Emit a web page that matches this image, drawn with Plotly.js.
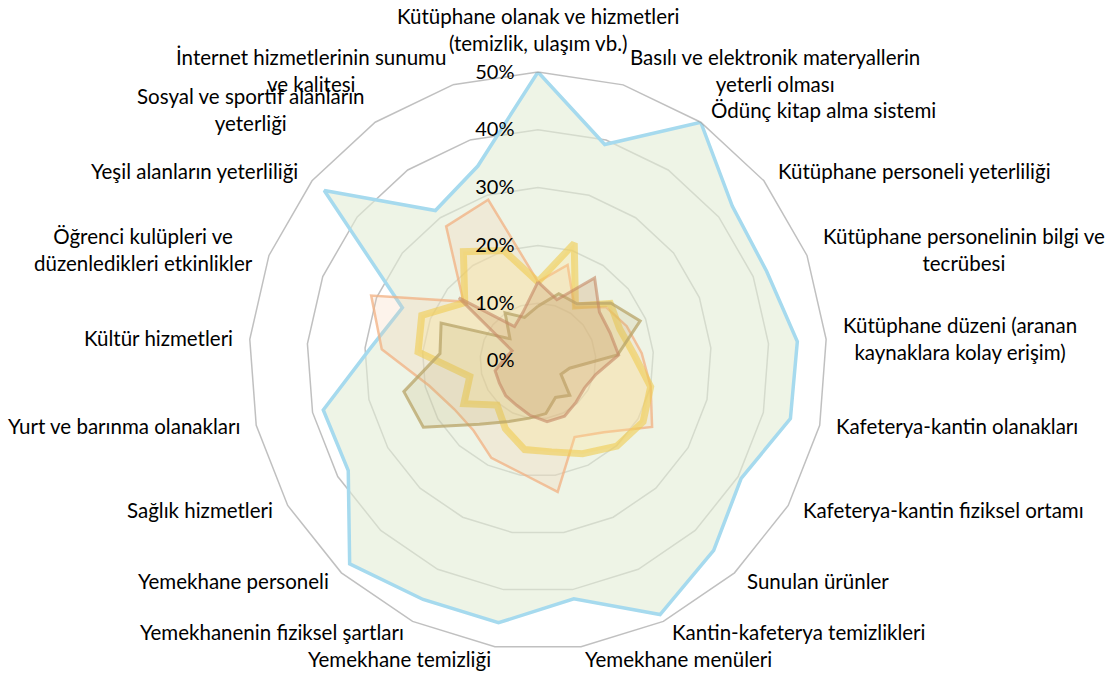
<!DOCTYPE html>
<html>
<head>
<meta charset="utf-8">
<script src="https://cdn.plot.ly/plotly-3.0.1.min.js"></script>
<style>html,body{margin:0;padding:0;background:#fff;}#chart{width:1110px;height:673px;}</style>
</head>
<body>
<div id="chart"></div>
<script>
const categories = [
  "Kütüphane olanak ve hizmetleri<br>(temizlik, ulaşım vb.)",
  "Basılı ve elektronik materyallerin<br>yeterli olması",
  "Ödünç kitap alma sistemi",
  "Kütüphane personeli yeterliliği",
  "Kütüphane personelinin bilgi ve<br>tecrübesi",
  "Kütüphane düzeni (aranan<br>kaynaklara kolay erişim)",
  "Kafeterya-kantin olanakları",
  "Kafeterya-kantin fiziksel ortamı",
  "Sunulan ürünler",
  "Kantin-kafeterya temizlikleri",
  "Yemekhane menüleri",
  "Yemekhane temizliği",
  "Yemekhanenin fiziksel şartları",
  "Yemekhane personeli",
  "Sağlık hizmetleri",
  "Yurt ve barınma olanakları",
  "Kültür hizmetleri",
  "Öğrenci kulüpleri ve<br>düzenledikleri etkinlikler",
  "Yeşil alanların yeterliliği",
  "Sosyal ve sportif alanların<br>yeterliği",
  "İnternet hizmetlerinin sunumu<br>ve kalitesi"
];
const seriesBlue   = [50, 39.2, 50, 43, 42.5, 45, 44.8, 40.6, 44.7, 48.7, 41.6, 45.8, 45.8, 47.9, 37.9, 38.1, 29.1, 25.2, 47.3, 31.5, 35.3];
const seriesSalmon = [13.7, 17.4, 11.2, 15, 16.5, 18, 20, 22.8, 16.8, 14.6, 22.9, 19.6, 18.6, 16.4, 16.7, 19.3, 27.1, 31, 16.5, 28.2, 29.2];
const seriesYellow = [13.7, 21.3, 11.5, 16, 15.2, 16.6, 20, 21, 20.1, 17.8, 15.9, 15.5, 13, 10.4, 14.8, 12.1, 20.8, 21.6, 16.2, 22.9, 20];
const seriesOlive  = [9.5, 12.2, 12, 16.1, 19, 13.8, 5.6, 4.6, 8.1, 7, 9.2, 10, 11.6, 14.9, 22.9, 23.8, 17, 18, 6.2, 10.1, 7.9];
const seriesBrown  = [13.7, 11.1, 17.4, 13.6, 13.4, 14, 10.3, 9.3, 9.7, 10.6, 10.6, 9.5, 8.5, 8.2, 7.7, 7.6, 5.8, 4.8, 17.5, 7.2, 8.8];
const radialTicks = [0, 10, 20, 30, 40, 50];
const radialTickText = ["0%", "10%", "20%", "30%", "40%", "50%"];

const W = 1110, H = 673;
const domX = [0.2243, 0.7450], domY = [0.0342, 0.893];

function closed(a){ return a.concat([a[0]]); }
const theta = closed(categories);

function tr(vals, line, width, fill){
  return {type:'scatterpolar', r: closed(vals), theta: theta, mode:'lines',
    line:{color: line, width: width}, fill:'toself', fillcolor: fill, hoverinfo:'skip'};
}

const data = [
  tr(seriesBlue,   'rgb(166,218,238)', 3.5, 'rgba(226,237,214,0.6)'),
  tr(seriesSalmon, 'rgba(242,176,130,0.75)', 2.5, 'rgba(248,200,165,0.22)'),
  tr(seriesYellow, 'rgba(240,203,80,0.6)', 7, 'rgba(255,228,140,0.28)'),
  tr(seriesOlive,  'rgba(184,164,104,0.75)', 3, 'rgba(190,170,110,0.18)'),
  tr(seriesBrown,  'rgba(196,135,100,0.6)', 3, 'rgba(205,160,110,0.3)')
];

// category labels placed around the polar frame (centred multi-line text)
const cxPx = (domX[0] + domX[1]) / 2 * W;
const cyPx = (1 - (domY[0] + domY[1]) / 2) * H;
const Rpx = Math.min((domX[1] - domX[0]) * W, (domY[1] - domY[0]) * H) / 2;
const labelGap = 15;
const annotations = categories.map((txt, k) => {
  const a = k * 2 * Math.PI / categories.length;
  const s = Math.sin(a), c = Math.cos(a);
  const px = cxPx + (Rpx + labelGap) * s;
  const py = cyPx - (Rpx + labelGap) * c - (c < 0 ? 3 : 0);
  let xa = 'center', ya = 'middle';
  if (s > 0.05) xa = 'left'; else if (s < -0.05) xa = 'right';
  if (c > 0.99) ya = 'bottom';
  return {text: txt, x: px / W, y: 1 - py / H, xref: 'paper', yref: 'paper',
    xanchor: xa, yanchor: ya, align: 'center', showarrow: false,
    font: {size: 20.5, color: '#000'}};
});

const layout = {
  width: W, height: H,
  margin: {l:0, r:0, t:0, b:0},
  paper_bgcolor: '#ffffff',
  showlegend: false,
  font: {family: 'Lato, "Open Sans", sans-serif', color: '#000'},
  annotations: annotations,
  polar: {
    domain: {x: domX, y: domY},
    bgcolor: 'rgba(0,0,0,0)',
    gridshape: 'linear',
    radialaxis: {
      range: [0, 50], tickvals: radialTicks, ticktext: radialTickText,
      angle: 90, tickangle: 90, side: 'counterclockwise',
      showline: false, ticks: 'outside', ticklen: 16, tickcolor: 'rgba(0,0,0,0)',
      gridcolor: 'rgba(140,140,140,0.55)', gridwidth: 1.5,
      tickfont: {size: 20, color: '#000'}
    },
    angularaxis: {
      rotation: 90, direction: 'clockwise',
      showgrid: false, ticks: '', showline: true, showticklabels: false,
      linecolor: 'rgba(140,140,140,0.55)', linewidth: 1.5
    }
  }
};
Plotly.newPlot('chart', data, layout, {displayModeBar:false, staticPlot:true});
</script>
</body>
</html>
